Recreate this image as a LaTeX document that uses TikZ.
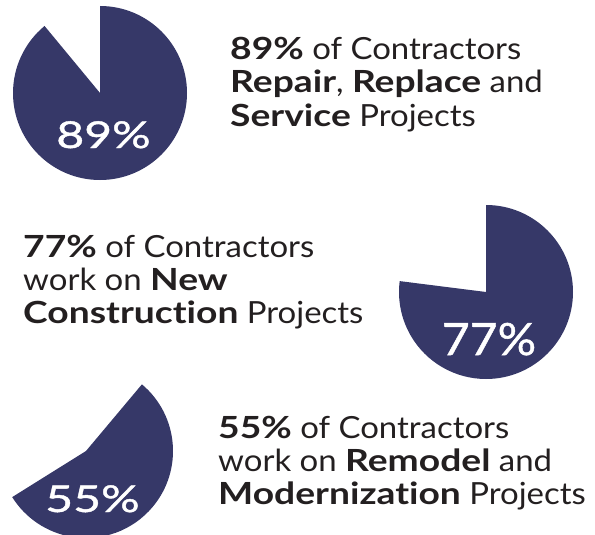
\documentclass[tikz,border=0pt]{standalone}
\usepackage{fontspec}
\setmainfont{Lato}[RawFeature={-liga;-dlig}, FakeStretch=1.08,
  BoldFeatures={FakeStretch=1.22}]
\newfontfamily\pctfont{Lato}[FakeStretch=1.3, FakeBold=1.2]
\definecolor{navy}{HTML}{363868}
\definecolor{ink}{HTML}{231F20}
\begin{document}
\begin{tikzpicture}[x=1pt,y=1pt,
  body/.style={anchor=base west,inner sep=0pt,text=ink,font=\fontsize{30.5}{33}\selectfont},
  pct/.style={anchor=base,inner sep=0pt,text=white,font=\pctfont\fontsize{37}{40}\selectfont}]
\useasboundingbox (0,-535) rectangle (595,0);
\clip (0,-535) rectangle (595,0);
% pies
\coordinate (c1) at (100,-93);
\coordinate (c2) at (486,-292);
\coordinate (c3) at (86,-451);
\fill[navy] (c1) -- ++(90:87) arc[start angle=90,end angle=-230.4,radius=87] -- cycle;
\fill[navy] (c2) -- ++(90:87) arc[start angle=90,end angle=-187.2,radius=87] -- cycle;
\fill[navy] (c3) -- ++(50:87) arc[start angle=50,end angle=-148,radius=87] -- cycle;
% percent labels
\node[pct] (p1) at (103.5,-148) {89\%};
\node[pct,yscale=1.2,transform shape] (p2) at (489,-355) {77\%};
\node[pct] (p3) at (92.5,-512) {55\%};
% text block 1
\node[body] (a1) at (230,-60) {\textbf{89\%} of Contractors};
\node[body] (a2) at (230,-93) {\textbf{Repair}, \textbf{Replace} and};
\node[body] (a3) at (230,-127) {\textbf{Service} Projects};
% text block 2
\node[body] (b1) at (23,-257) {\textbf{77\%} of Contractors};
\node[body] (b2) at (23,-290) {work on \textbf{New}};
\node[body] (b3) at (23,-323) {\textbf{Construction} Projects};
% text block 3
\node[body] (d1) at (218,-438) {\textbf{55\%} of Contractors};
\node[body] (d2) at (218,-471) {work on \textbf{Remodel} and};
\node[body] (d3) at (218,-504) {\textbf{Modernization} Projects};
\end{tikzpicture}
\end{document}
